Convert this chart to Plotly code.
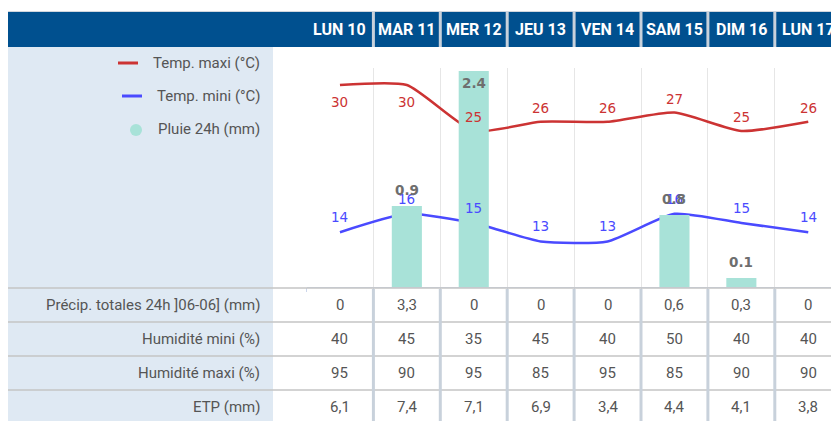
import plotly.graph_objects as go

# The page body has an 8px default margin, so the figure is drawn 8px in from the window edge.
OFF = 8
W, H = 839 - OFF, 421 - OFF

days = ["LUN 10", "MAR 11", "MER 12", "JEU 13", "VEN 14", "SAM 15", "DIM 16", "LUN 17"]
tmax = [30, 30, 25, 26, 26, 27, 25, 26]
tmin = [14, 16, 15, 13, 13, 16, 15, 14]
rain = [0, 0.9, 2.4, 0, 0, 0.8, 0.1, 0]
precip = ["0", "3,3", "0", "0", "0", "0,6", "0,3", "0"]
hum_min = [40, 45, 35, 45, 40, 50, 40, 40]
hum_max = [95, 90, 95, 85, 95, 85, 90, 90]
etp = ["6,1", "7,4", "7,1", "6,9", "3,4", "4,4", "4,1", "3,8"]
row_labels = ["Précip. totales 24h ]06-06] (mm)", "Humidité mini (%)", "Humidité maxi (%)", "ETP (mm)"]
legend_labels = ["Temp. maxi (°C)", "Temp. mini (°C)", "Pluie 24h (mm)"]

RED = "#cc3333"
BLUE = "#4a4aff"
TEAL = "#a8e2d8"
HEAD = "#00508f"
PANEL = "#dfe9f3"
SEP = "#c8d1db"
TXT = "#555555"


def px(x):
    return (x - OFF) / W


def py(y):
    return 1 - (y - OFF) / H


x = list(range(len(days)))
fig = go.Figure()
fig.add_trace(go.Bar(x=x, y=rain, yaxis="y2", marker=dict(color=TEAL, line=dict(width=0)),
                     width=0.45, showlegend=False, hoverinfo="skip"))
fig.add_trace(go.Scatter(x=x, y=tmax, mode="lines", line=dict(color=RED, width=2.5, shape="spline", smoothing=0.55),
                         showlegend=False, hoverinfo="skip"))
fig.add_trace(go.Scatter(x=x, y=tmin, mode="lines", line=dict(color=BLUE, width=2.5, shape="spline", smoothing=0.55),
                         showlegend=False, hoverinfo="skip"))

shapes = []
ann = []

# header bar
shapes.append(dict(type="rect", xref="paper", yref="paper", x0=px(7), x1=px(839), y0=py(47), y1=py(12),
                   fillcolor=HEAD, line=dict(width=0), layer="below"))
shapes.append(dict(type="line", xref="paper", yref="paper", x0=px(7), x1=px(839), y0=py(11.5), y1=py(11.5),
                   line=dict(color="#d0d6de", width=1)))
# left panel
shapes.append(dict(type="rect", xref="paper", yref="paper", x0=px(7), x1=px(273), y0=py(421), y1=py(47),
                   fillcolor=PANEL, line=dict(width=0), layer="below"))
# header separators
for i in range(len(days) - 1):
    shapes.append(dict(type="line", xref="x", yref="paper", x0=i + 0.5, x1=i + 0.5, y0=py(47), y1=py(12),
                       line=dict(color=SEP, width=3)))
shapes.append(dict(type="line", xref="paper", yref="paper", x0=px(837.5), x1=px(837.5), y0=py(47), y1=py(12),
                   line=dict(color=SEP, width=3)))
# table row lines
for yy in [288, 322, 356, 390]:
    shapes.append(dict(type="line", xref="paper", yref="paper", x0=px(7), x1=px(839), y0=py(yy), y1=py(yy),
                       line=dict(color="#c4c4c4", width=1.5)))
# table column separators
for i in range(len(days) - 1):
    shapes.append(dict(type="line", xref="x", yref="paper", x0=i + 0.5, x1=i + 0.5, y0=py(421), y1=py(289),
                       line=dict(color=SEP, width=3)))

# header labels
for i, d in enumerate(days):
    ann.append(dict(x=i, xref="x", y=py(29.5), yref="paper", text=f"<b>{d}</b>", showarrow=False,
                    xanchor="center", yanchor="middle",
                    font=dict(family="Roboto", size=16, color="white")))

# legend
shapes.append(dict(type="line", xref="paper", yref="paper", x0=px(118), x1=px(138), y0=py(63), y1=py(63),
                   line=dict(color=RED, width=3)))
shapes.append(dict(type="line", xref="paper", yref="paper", x0=px(122), x1=px(142), y0=py(96), y1=py(96),
                   line=dict(color=BLUE, width=3)))
shapes.append(dict(type="circle", xref="paper", yref="paper", x0=px(130), x1=px(142), y0=py(136), y1=py(124),
                   fillcolor=TEAL, line=dict(width=0)))
for yy, t in zip([63, 96, 129], legend_labels):
    ann.append(dict(x=px(262), xref="paper", y=py(yy), yref="paper", text=t, showarrow=False,
                    xanchor="right", yanchor="middle",
                    font=dict(family="Roboto", size=15, color=TXT)))

# table content
rows = [precip, hum_min, hum_max, etp]
for yy, lab, vals in zip([305, 339, 373, 407], row_labels, rows):
    ann.append(dict(x=px(262), xref="paper", y=py(yy), yref="paper", text=lab, showarrow=False,
                    xanchor="right", yanchor="middle",
                    font=dict(family="Roboto", size=15, color=TXT)))
    for i, v in enumerate(vals):
        ann.append(dict(x=i, xref="x", y=py(yy), yref="paper", text=str(v), showarrow=False,
                        xanchor="center", yanchor="middle",
                        font=dict(family="Roboto", size=15, color=TXT)))

# data labels
lab_font = dict(family="DejaVu Sans", size=13.5)
for i, v in enumerate(tmax):
    shift = -17 if v >= 29.5 else 14
    ann.append(dict(x=i, xref="x", y=v, yref="y", text=str(v), showarrow=False, yshift=shift,
                    xanchor="center", yanchor="middle", font=dict(lab_font, color=RED)))
for i, v in enumerate(tmin):
    ann.append(dict(x=i, xref="x", y=v, yref="y", text=str(v), showarrow=False, yshift=15,
                    xanchor="center", yanchor="middle", font=dict(lab_font, color=BLUE)))
for i, v in enumerate(rain):
    if v > 0:
        shift = -12 if v > 2.2 else 16
        ann.append(dict(x=i, xref="x", y=v, yref="y2", text=f"<b>{v}</b>", showarrow=False, yshift=shift,
                        xanchor="center", yanchor="middle", font=dict(lab_font, color="#6e6e6e")))

col_w = 66.9
x_left = 306.5
fig.update_layout(
    width=W, height=H, margin=dict(l=0, r=0, t=0, b=0),
    paper_bgcolor="white", plot_bgcolor="white",
    xaxis=dict(domain=[px(x_left), 1], range=[-0.5, -0.5 + (839 - x_left) / col_w],
               tickvals=[i - 0.5 for i in range(len(days))], showticklabels=False,
               showgrid=True, gridcolor="#e6e6e6", gridwidth=1, zeroline=False,
               showline=True, linecolor="#ccd6eb", linewidth=1, ticks="outside", ticklen=4, tickcolor="#ccd6eb"),
    yaxis=dict(domain=[py(287), py(68)], range=[30 - (287 - 85) / 9.2, 30 + (85 - 68) / 9.2],
               showgrid=False, showticklabels=False, zeroline=False),
    yaxis2=dict(domain=[py(287), py(68)], overlaying="y", range=[0, 219 / 90], showgrid=False,
                showticklabels=False, zeroline=False),
    shapes=shapes, annotations=ann, showlegend=False, bargap=0.5,
)
fig.write_html("out.html")
